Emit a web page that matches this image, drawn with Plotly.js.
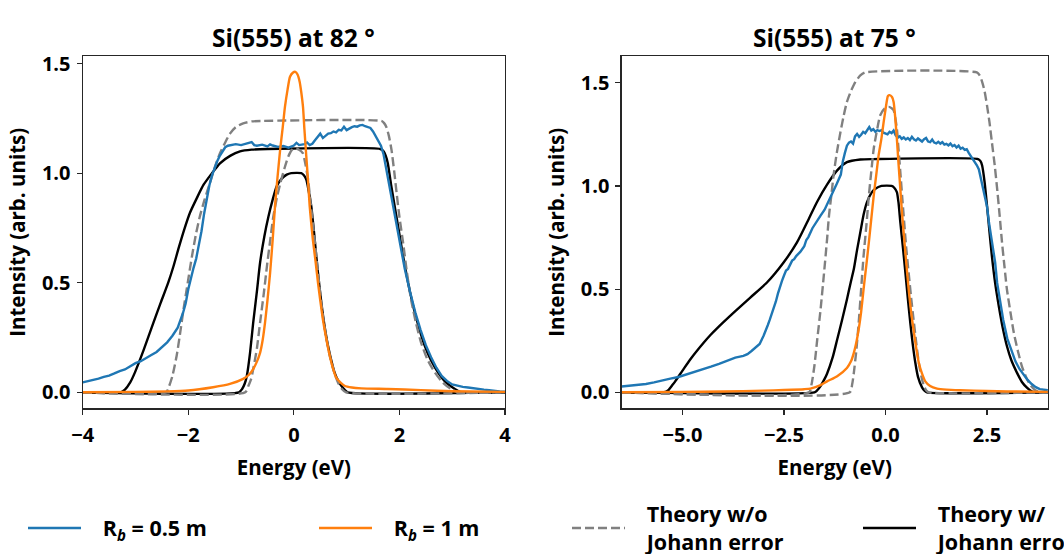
<!DOCTYPE html>
<html>
<head>
<meta charset="utf-8">
<script src="https://cdn.plot.ly/plotly-3.0.1.min.js"></script>
<style>
html,body{margin:0;padding:0;background:#fff;}
#chart{width:1064px;height:554px;}
</style>
</head>
<body>
<div id="chart"></div>
<script>
// ---------- Left panel: Si(555) at 82 deg ----------
const L_blue_x = [-4.00,-3.90,-3.80,-3.70,-3.60,-3.50,-3.40,-3.30,-3.20,-3.10,-3.00,-2.90,-2.80,-2.70,-2.60,-2.50,-2.40,-2.30,-2.20,-2.10,-2.05,-2.00,-1.95,-1.90,-1.85,-1.80,-1.75,-1.70,-1.65,-1.60,-1.55,-1.50,-1.45,-1.40,-1.35,-1.30,-1.25,-1.20,-1.10,-1.00,-0.90,-0.80,-0.75,-0.70,-0.60,-0.50,-0.45,-0.40,-0.30,-0.20,-0.10,0.00,0.05,0.10,0.20,0.25,0.30,0.35,0.40,0.45,0.50,0.55,0.60,0.65,0.70,0.75,0.80,0.85,0.90,0.95,1.00,1.05,1.10,1.15,1.20,1.25,1.30,1.35,1.40,1.45,1.50,1.55,1.60,1.65,1.70,1.75,1.80,1.85,1.90,2.00,2.10,2.20,2.30,2.40,2.50,2.60,2.70,2.80,2.90,3.00,3.10,3.20,3.30,3.40,3.50,3.60,3.70,3.80,3.90,4.00];
const L_blue_y = [0.045,0.050,0.056,0.062,0.070,0.076,0.086,0.097,0.104,0.118,0.133,0.142,0.158,0.170,0.184,0.204,0.228,0.258,0.295,0.362,0.405,0.470,0.525,0.568,0.610,0.665,0.735,0.815,0.890,0.945,0.990,1.025,1.055,1.080,1.100,1.118,1.125,1.128,1.132,1.128,1.134,1.142,1.128,1.125,1.130,1.122,1.131,1.126,1.120,1.124,1.116,1.126,1.138,1.128,1.132,1.140,1.128,1.134,1.150,1.165,1.180,1.160,1.172,1.180,1.182,1.190,1.186,1.198,1.195,1.212,1.196,1.205,1.210,1.214,1.212,1.218,1.220,1.214,1.210,1.206,1.190,1.170,1.150,1.125,1.085,1.020,0.945,0.880,0.820,0.690,0.565,0.460,0.365,0.285,0.215,0.160,0.112,0.075,0.052,0.036,0.030,0.025,0.022,0.018,0.016,0.012,0.010,0.006,0.004,0.003];

const L_orange_x = [-4.0,-3.0,-2.4,-2.0,-1.53,-1.21,-0.96,-0.85,-0.77,-0.70,-0.64,-0.59,-0.546,-0.50,-0.45,-0.40,-0.357,-0.31,-0.26,-0.21,-0.168,-0.12,-0.073,-0.02,0.028,0.07,0.11,0.14,0.173,0.20,0.236,0.27,0.30,0.33,0.36,0.41,0.457,0.50,0.55,0.61,0.68,0.74,0.80,0.88,0.96,1.10,1.28,1.78,2.41,3.0,4.0];
const L_orange_y = [0.0,0.002,0.004,0.008,0.023,0.038,0.061,0.080,0.106,0.140,0.180,0.240,0.318,0.420,0.545,0.700,0.849,0.980,1.106,1.210,1.303,1.380,1.440,1.458,1.462,1.450,1.417,1.370,1.303,1.200,1.076,0.960,0.849,0.770,0.697,0.600,0.500,0.420,0.333,0.250,0.167,0.110,0.068,0.045,0.030,0.022,0.018,0.015,0.010,0.005,0.002];

const L_grayW_x = [-4.0,-2.42,-2.36,-2.30,-2.22,-2.16,-2.09,-2.01,-1.93,-1.86,-1.78,-1.69,-1.59,-1.50,-1.40,-1.30,-1.21,-1.10,-0.96,-0.80,-0.60,1.66,1.71,1.75,1.80,1.85,1.90,1.94,2.00,2.07,2.14,2.22,2.31,2.41,2.53,2.67,2.82,2.98,3.11,4.0];
const L_grayW_y = [0,0,0.030,0.075,0.167,0.260,0.379,0.500,0.621,0.715,0.803,0.880,0.955,1.025,1.091,1.140,1.180,1.210,1.227,1.236,1.238,1.238,1.228,1.212,1.170,1.106,1.010,0.924,0.800,0.682,0.550,0.424,0.320,0.227,0.150,0.091,0.045,0.015,0,0];

const L_grayN_x = [-4.0,-0.92,-0.86,-0.81,-0.77,-0.70,-0.64,-0.57,-0.51,-0.45,-0.39,-0.32,-0.26,-0.18,-0.105,-0.04,0.015,0.09,0.17,0.22,0.27,0.31,0.36,0.41,0.457,0.50,0.55,0.61,0.68,0.76,0.836,0.91,0.99,4.0];
const L_grayN_y = [0,0,0.030,0.060,0.106,0.200,0.318,0.450,0.575,0.690,0.800,0.890,0.950,1.020,1.076,1.105,1.114,1.108,1.091,1.040,0.970,0.880,0.773,0.660,0.545,0.450,0.348,0.255,0.167,0.095,0.045,0.015,0,0];

const L_blackW_x = [-4.0,-3.28,-3.20,-3.10,-3.01,-2.85,-2.66,-2.52,-2.38,-2.28,-2.19,-2.08,-1.97,-1.84,-1.71,-1.55,-1.40,-1.20,-1.02,-0.80,-0.50,1.64,1.70,1.74,1.78,1.84,1.91,1.99,2.07,2.16,2.26,2.37,2.48,2.60,2.73,2.88,3.05,3.17,4.0];
const L_blackW_y = [0,0,0.012,0.045,0.091,0.190,0.318,0.410,0.500,0.575,0.652,0.740,0.818,0.885,0.947,1.000,1.045,1.080,1.099,1.107,1.110,1.110,1.100,1.080,1.045,0.950,0.849,0.735,0.621,0.505,0.394,0.295,0.212,0.145,0.091,0.045,0.015,0,0];

const L_blackN_x = [-4.0,-1.04,-0.98,-0.93,-0.89,-0.83,-0.77,-0.70,-0.64,-0.56,-0.48,-0.40,-0.325,-0.23,-0.135,-0.05,0.14,0.19,0.236,0.28,0.33,0.38,0.425,0.47,0.52,0.58,0.647,0.71,0.77,0.84,0.90,0.96,1.02,4.0];
const L_blackN_y = [0,0,0.015,0.040,0.076,0.180,0.318,0.460,0.591,0.710,0.803,0.880,0.940,0.975,0.993,1.000,1.000,0.990,0.970,0.920,0.849,0.735,0.621,0.515,0.410,0.305,0.212,0.145,0.091,0.052,0.030,0.012,0,0];

// ---------- Right panel: Si(555) at 75 deg ----------
const R_blue_x = [-6.50,-6.30,-6.10,-5.90,-5.70,-5.50,-5.30,-5.10,-4.90,-4.70,-4.50,-4.30,-4.10,-3.90,-3.70,-3.50,-3.40,-3.30,-3.20,-3.10,-3.00,-2.95,-2.90,-2.85,-2.80,-2.75,-2.70,-2.65,-2.60,-2.55,-2.50,-2.45,-2.40,-2.35,-2.30,-2.25,-2.20,-2.10,-2.00,-1.95,-1.90,-1.80,-1.70,-1.60,-1.50,-1.45,-1.40,-1.30,-1.20,-1.10,-1.05,-1.00,-0.95,-0.90,-0.85,-0.80,-0.75,-0.70,-0.65,-0.60,-0.55,-0.50,-0.45,-0.40,-0.35,-0.30,-0.25,-0.20,-0.15,-0.10,-0.05,0.00,0.05,0.10,0.15,0.20,0.25,0.30,0.35,0.40,0.45,0.50,0.55,0.60,0.65,0.70,0.75,0.80,0.85,0.90,0.95,1.00,1.05,1.10,1.15,1.20,1.25,1.30,1.35,1.40,1.45,1.50,1.55,1.60,1.65,1.70,1.75,1.80,1.85,1.90,1.95,2.00,2.05,2.10,2.15,2.20,2.25,2.30,2.35,2.40,2.45,2.50,2.55,2.60,2.65,2.70,2.75,2.80,2.85,2.90,3.00,3.10,3.20,3.30,3.40,3.50,3.60,3.70,3.80,3.90,4.00];
const R_blue_y = [0.028,0.031,0.035,0.040,0.048,0.058,0.066,0.074,0.086,0.098,0.110,0.124,0.138,0.152,0.168,0.176,0.185,0.200,0.215,0.234,0.275,0.305,0.325,0.352,0.380,0.410,0.440,0.478,0.512,0.540,0.566,0.590,0.598,0.620,0.638,0.645,0.660,0.680,0.708,0.738,0.752,0.795,0.828,0.856,0.885,0.905,0.925,0.962,1.010,1.055,1.120,1.160,1.195,1.210,1.215,1.205,1.240,1.252,1.238,1.248,1.262,1.255,1.270,1.285,1.268,1.275,1.262,1.270,1.266,1.270,1.258,1.255,1.250,1.262,1.256,1.268,1.245,1.235,1.240,1.228,1.235,1.225,1.232,1.222,1.238,1.226,1.220,1.230,1.222,1.215,1.226,1.232,1.215,1.212,1.225,1.210,1.206,1.214,1.205,1.212,1.200,1.204,1.196,1.205,1.192,1.198,1.186,1.195,1.180,1.185,1.175,1.178,1.160,1.145,1.128,1.118,1.100,1.080,1.035,1.000,0.950,0.900,0.820,0.760,0.700,0.630,0.530,0.470,0.410,0.350,0.260,0.200,0.150,0.113,0.085,0.060,0.040,0.025,0.015,0.011,0.010];

const R_orange_x = [-6.5,-5.0,-4.0,-3.0,-2.5,-2.0,-1.85,-1.6,-1.44,-1.19,-0.95,-0.85,-0.78,-0.72,-0.66,-0.60,-0.54,-0.47,-0.41,-0.35,-0.29,-0.23,-0.17,-0.10,-0.045,0.0,0.04,0.06,0.10,0.16,0.20,0.24,0.28,0.32,0.365,0.41,0.46,0.51,0.57,0.63,0.70,0.76,0.82,0.90,0.98,1.10,1.27,1.50,1.84,2.5,3.0,4.0];
const R_orange_y = [0.0,0.002,0.004,0.008,0.011,0.015,0.018,0.035,0.053,0.078,0.118,0.150,0.191,0.240,0.305,0.390,0.500,0.620,0.726,0.840,0.953,1.050,1.148,1.230,1.310,1.370,1.420,1.436,1.440,1.431,1.407,1.330,1.229,1.110,0.986,0.860,0.743,0.630,0.500,0.390,0.289,0.210,0.143,0.090,0.053,0.030,0.018,0.013,0.010,0.006,0.004,0.002];

const R_grayW_x = [-6.5,-1.88,-1.82,-1.75,-1.69,-1.60,-1.52,-1.44,-1.39,-1.33,-1.28,-1.20,-1.11,-1.03,-0.95,-0.85,-0.74,-0.62,-0.50,2.25,2.32,2.38,2.44,2.50,2.56,2.62,2.69,2.75,2.81,2.87,2.93,2.99,3.08,3.16,3.26,3.36,3.47,3.57,3.69,3.80,4.0];
const R_grayW_y = [0,0,0.040,0.130,0.240,0.400,0.565,0.740,0.860,0.960,1.050,1.160,1.260,1.340,1.407,1.460,1.504,1.535,1.550,1.550,1.535,1.504,1.460,1.390,1.310,1.213,1.100,0.986,0.860,0.726,0.610,0.500,0.385,0.289,0.200,0.126,0.070,0.034,0.010,0,0];

const R_grayN_x = [-6.5,-0.88,-0.82,-0.78,-0.72,-0.66,-0.60,-0.54,-0.47,-0.41,-0.35,-0.29,-0.20,-0.13,-0.02,0.08,0.16,0.20,0.24,0.28,0.32,0.365,0.41,0.46,0.51,0.57,0.63,0.70,0.76,0.82,0.88,0.94,1.00,1.06,4.0];
const R_grayN_y = [0,0,0.040,0.094,0.200,0.337,0.500,0.661,0.810,0.953,1.070,1.180,1.280,1.342,1.375,1.383,1.375,1.367,1.330,1.277,1.180,1.067,0.950,0.824,0.700,0.580,0.460,0.337,0.235,0.143,0.080,0.034,0.010,0,0];

const R_blackW_x = [-6.5,-5.45,-5.35,-5.25,-5.18,-5.00,-4.81,-4.48,-4.30,-4.15,-3.74,-3.33,-2.92,-2.51,-2.18,-1.89,-1.69,-1.44,-1.19,-0.95,-0.62,-0.30,2.28,2.34,2.38,2.44,2.50,2.56,2.62,2.70,2.79,2.89,2.99,3.10,3.24,3.36,3.49,3.61,3.70,4.0];
const R_blackW_y = [0,0,0.010,0.035,0.053,0.105,0.159,0.240,0.280,0.310,0.386,0.459,0.532,0.629,0.726,0.840,0.921,1.006,1.075,1.115,1.128,1.130,1.130,1.120,1.099,1.020,0.905,0.780,0.661,0.530,0.418,0.310,0.224,0.155,0.094,0.050,0.021,0.003,0,0];

const R_blackN_x = [-6.5,-1.75,-1.68,-1.60,-1.50,-1.44,-1.30,-1.19,-1.07,-0.95,-0.86,-0.78,-0.70,-0.62,-0.54,-0.456,-0.35,-0.25,-0.10,0.15,0.22,0.28,0.32,0.365,0.43,0.49,0.55,0.61,0.67,0.735,0.80,0.90,0.96,1.02,4.0];
const R_blackN_y = [0,0,0.010,0.030,0.065,0.090,0.170,0.256,0.350,0.450,0.530,0.597,0.690,0.775,0.860,0.921,0.965,0.986,1.000,1.000,0.990,0.970,0.920,0.824,0.700,0.580,0.455,0.337,0.235,0.143,0.075,0.024,0.008,0,0];

// ---------- Labels ----------
const panelTitles = ['Si(555) at 82 °', 'Si(555) at 75 °'];
const xTitle = 'Energy (eV)';
const yTitle = 'Intensity (arb. units)';
const PAD = '\u00A0\u00A0\u00A0';
const seriesNames = [PAD + 'R<sub><i>b</i></sub> = 0.5 m', PAD + 'R<sub><i>b</i></sub> = 1 m',
  PAD + 'Theory w/o<br>' + PAD + 'Johann error', PAD + 'Theory w/<br>' + PAD + 'Johann error'];
const xTicksLeft = [-4, -2, 0, 2, 4];
const xTicksRight = [-5, -2.5, 0, 2.5];
const yTicks = [0, 0.5, 1.0, 1.5];

const FONT = '"Open Sans", "Liberation Sans", sans-serif';
const C_BLUE = '#1f77b4', C_ORANGE = '#ff7f0e', C_GRAY = '#808080', C_BLACK = '#000000';
const LW = 2.4;
const DASH = '9px,4px';

function tr(x, y, xa, ya, color, dash, name, legend, show) {
  return {type:'scatter', mode:'lines', x:x, y:y, xaxis:xa, yaxis:ya,
    line:{color:color, width:LW, dash:dash||'solid', shape:'spline', smoothing:0.6},
    name:name, legend:legend, showlegend:show, hoverinfo:'skip'};
}

const data = [
  tr(L_blackW_x, L_blackW_y, 'x', 'y', C_BLACK, null, seriesNames[3], 'legend4', true),
  tr(L_blackN_x, L_blackN_y, 'x', 'y', C_BLACK, null, seriesNames[3], 'legend4', false),
  tr(L_grayW_x, L_grayW_y, 'x', 'y', C_GRAY, DASH, seriesNames[2], 'legend3', true),
  tr(L_grayN_x, L_grayN_y, 'x', 'y', C_GRAY, DASH, seriesNames[2], 'legend3', false),
  tr(L_blue_x, L_blue_y, 'x', 'y', C_BLUE, null, seriesNames[0], 'legend', true),
  tr(L_orange_x, L_orange_y, 'x', 'y', C_ORANGE, null, seriesNames[1], 'legend2', true),
  tr(R_blackW_x, R_blackW_y, 'x2', 'y2', C_BLACK, null, seriesNames[3], 'legend4', false),
  tr(R_blackN_x, R_blackN_y, 'x2', 'y2', C_BLACK, null, seriesNames[3], 'legend4', false),
  tr(R_grayW_x, R_grayW_y, 'x2', 'y2', C_GRAY, DASH, seriesNames[2], 'legend3', false),
  tr(R_grayN_x, R_grayN_y, 'x2', 'y2', C_GRAY, DASH, seriesNames[2], 'legend3', false),
  tr(R_blue_x, R_blue_y, 'x2', 'y2', C_BLUE, null, seriesNames[0], 'legend', false),
  tr(R_orange_x, R_orange_y, 'x2', 'y2', C_ORANGE, null, seriesNames[1], 'legend2', false)
];
// blue is noisy measured data: no smoothing
data[4].line.shape = 'linear';
data[10].line.shape = 'linear';

const W = 1064, H = 554;
const axBase = {
  showgrid:false, zeroline:false, showline:true, mirror:true,
  linecolor:'#262626', linewidth:1.2,
  ticks:'outside', ticklen:5, tickwidth:1.2, tickcolor:'#262626',
  tickfont:{family:FONT, size:20, color:'#000', weight:'bold'},
  fixedrange:true, automargin:false
};
const titleFont = {family:FONT, size:20.5, color:'#000', weight:'bold'};
const yDomain = [1 - 408.3/H, 1 - 56.3/H];

const legBase = {orientation:'h', yanchor:'middle', xanchor:'left', y:1 - 528/H,
  font:{family:FONT, size:21.5, color:'#000', weight:'bold'},
  bgcolor:'rgba(0,0,0,0)', itemwidth:53, itemclick:false, itemdoubleclick:false};

const layout = {
  width:W, height:H,
  margin:{l:0, r:0, t:0, b:0, autoexpand:false},
  paper_bgcolor:'#fff', plot_bgcolor:'#fff',
  font:{family:FONT, size:20, color:'#000', weight:'bold'},
  xaxis:Object.assign({}, axBase, {domain:[82.7/W, 505/W], range:[-4, 4], anchor:'y',
    tickvals:xTicksLeft, tickformat:'d', ticklabelstandoff:3,
    title:{text:xTitle, font:titleFont, standoff:14}}),
  yaxis:Object.assign({}, axBase, {domain:yDomain, range:[-0.073, 1.533], anchor:'x',
    tickvals:yTicks, tickformat:'.1f', ticklabelstandoff:2,
    title:{text:yTitle, font:titleFont, standoff:10}}),
  xaxis2:Object.assign({}, axBase, {domain:[621.6/W, 1047.9/W], range:[-6.5, 4.0], anchor:'y2',
    tickvals:xTicksRight, tickformat:'.1f', ticklabelstandoff:3,
    title:{text:xTitle, font:titleFont, standoff:14}}),
  yaxis2:Object.assign({}, axBase, {domain:yDomain, range:[-0.0776, 1.628], anchor:'x2',
    tickvals:yTicks, tickformat:'.1f', ticklabelstandoff:2,
    title:{text:yTitle, font:titleFont, standoff:10}}),
  legend:Object.assign({}, legBase, {x:23/W}),
  legend2:Object.assign({}, legBase, {x:314/W}),
  legend3:Object.assign({}, legBase, {x:567/W}),
  legend4:Object.assign({}, legBase, {x:858/W}),
  annotations:[
    {text:panelTitles[0], xref:'paper', yref:'paper', x:(82.7+505)/2/W, y:1 - 38/H,
     xanchor:'center', yanchor:'middle', showarrow:false,
     font:{family:FONT, size:24.5, color:'#000', weight:'bold'}},
    {text:panelTitles[1], xref:'paper', yref:'paper', x:(621.6+1047.9)/2/W, y:1 - 38/H,
     xanchor:'center', yanchor:'middle', showarrow:false,
     font:{family:FONT, size:24.5, color:'#000', weight:'bold'}}
  ]
};

Plotly.newPlot('chart', data, layout, {displayModeBar:false, staticPlot:true});
</script>
</body>
</html>
